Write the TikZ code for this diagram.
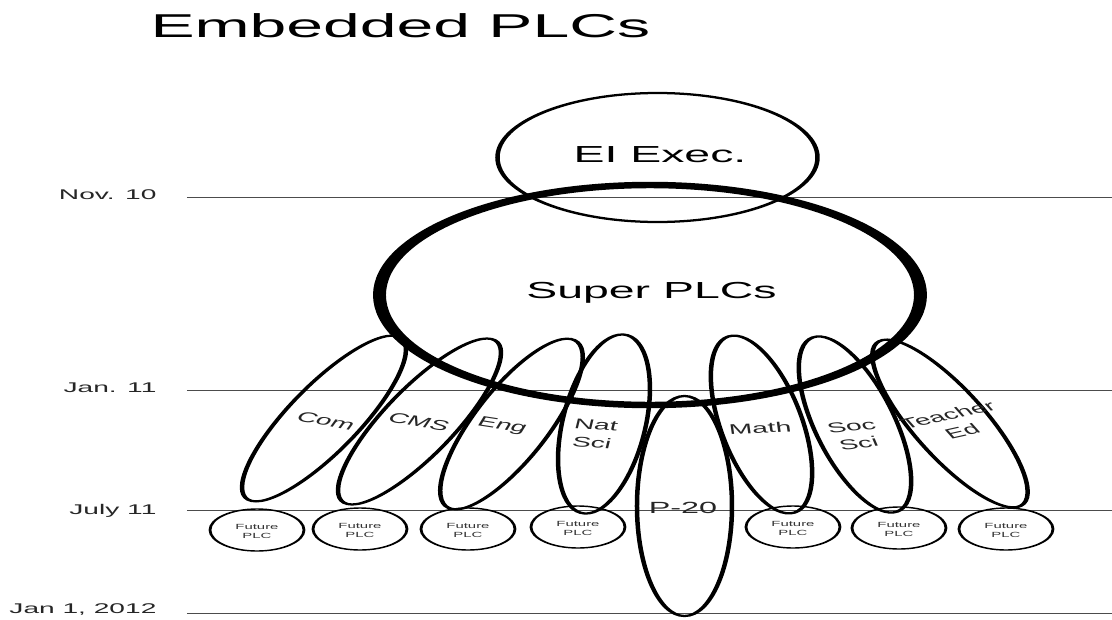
\documentclass[tikz,border=0pt]{standalone}
\usepackage{fontspec}
\setmainfont{Liberation Sans}
\tikzset{
  dateline/.style={gray!60!black, line width=0.7pt},
  datelabel/.style={anchor=base east, inner sep=0pt, text=black!85, font=\fontsize{10}{12}\selectfont},
  plcring/.style={draw, line width=1.6pt},
  futurering/.style={draw, line width=1pt},
  armlabel/.style={inner sep=0pt, align=center, text=black!85, font=\fontsize{10}{12.5}\selectfont},
  futurelabel/.style={inner sep=0pt, align=center, text=black!80, font=\fontsize{5.3}{6.4}\selectfont}
}
\begin{document}
\begin{tikzpicture}[x=0.025cm, y=-0.025cm]
% Set the page size (pixels of the slide)
\useasboundingbox (0,0) rectangle (1112,619);

% The slide is drawn narrow and then stretched sideways
\begin{scope}[x=0.0125cm, transform canvas={xscale=2}]
\def\armlen{2.25cm} % half length of a subject loop
\def\armwid{0.525cm} % half width of a subject loop

% Title
\node[anchor=base west, inner sep=0pt, font=\fontsize{23.5}{28}\selectfont] (title) at (150,37) {Embedded PLCs};

% Draw the time lines and their dates
\draw[dateline] (187,197) -- (1112,197);
\node[datelabel] (nov) at (157,199) {Nov. 10};
\draw[dateline] (187,390) -- (1112,390);
\node[datelabel] (jan) at (157,392) {Jan. 11};
\draw[dateline] (187,510) -- (1112,510);
\node[datelabel] (july) at (157,514) {July 11};
\draw[dateline] (187,613) -- (1112,613);
\node[datelabel] (year) at (157,613) {Jan 1, 2012};

% Executive and super PLCs
\draw[plcring] (657.5,157.5) ellipse [x radius=160, y radius=64.5];
\node[inner sep=0pt, font=\fontsize{16.5}{20}\selectfont] (exec) at (660,155) {EI Exec.};
\draw[line width=4.6pt] (650,295) ellipse [x radius=270.5, y radius=110];
\node[anchor=base, inner sep=0pt, font=\fontsize{16.5}{20}\selectfont] (super) at (651.5,298) {Super PLCs};

% Subject PLCs hanging from the super PLCs
\draw[plcring, rotate around={66.3:(324,418.5)}] (324,418.5) ellipse [x radius=\armlen, y radius=\armwid];
\node[armlabel, rotate=-20] (com) at (326,421) {Com};
\draw[plcring, rotate around={66.5:(419.5,421.5)}] (419.5,421.5) ellipse [x radius=\armlen, y radius=\armwid];
\node[armlabel, rotate=-19] (cms) at (419,422) {CMS};
\draw[plcring, rotate around={70.8:(511.5,424)}] (511.5,424) ellipse [x radius=\armlen, y radius=\armwid];
\node[armlabel, rotate=-17] (eng) at (502,426) {Eng};
\draw[plcring, rotate around={83.9:(604,424)}] (604,424) ellipse [x radius=\armlen, y radius=\armwid];
\node[armlabel, rotate=-7] (natsci) at (594,434) {Nat\\Sci};
\draw[plcring, rotate around={99.3:(761.5,424.5)}] (761.5,424.5) ellipse [x radius=\armlen, y radius=\armwid];
\node[armlabel, rotate=4] (math) at (760,428) {Math};
\draw[plcring, rotate around={102.3:(855,424.5)}] (855,424.5) ellipse [x radius=\armlen, y radius=\armwid];
\node[armlabel, rotate=12] (socsci) at (855,435) {Soc\\Sci};
\draw[plcring, rotate around={111.9:(950,423.5)}] (950,423.5) ellipse [x radius=\armlen, y radius=\armwid];
\node[armlabel, rotate=24] (teached) at (955,423) {Teacher\\Ed};

% P-20 runs past July
\draw[plcring] (684.5,506) ellipse [x radius=47.5, y radius=110];
\node[inner sep=0pt, text=black!85, font=\fontsize{11.5}{14}\selectfont] (ptwenty) at (683,508) {P-20};

% Future PLCs after July 11
\draw[futurering] (257,530) ellipse [x radius=47, y radius=21];
\node[futurelabel] (fut1) at (257,531.5) {Future\\PLC};
\draw[futurering] (360,529) ellipse [x radius=47, y radius=21];
\node[futurelabel] (fut2) at (360,530.5) {Future\\PLC};
\draw[futurering] (468,529) ellipse [x radius=47, y radius=21];
\node[futurelabel] (fut3) at (468,530.5) {Future\\PLC};
\draw[futurering] (578,527) ellipse [x radius=47, y radius=21];
\node[futurelabel] (fut4) at (578,528.5) {Future\\PLC};
\draw[futurering] (793,527) ellipse [x radius=47, y radius=21];
\node[futurelabel] (fut5) at (793,528.5) {Future\\PLC};
\draw[futurering] (899,528) ellipse [x radius=47, y radius=21];
\node[futurelabel] (fut6) at (899,529.5) {Future\\PLC};
\draw[futurering] (1006,529) ellipse [x radius=47, y radius=21];
\node[futurelabel] (fut7) at (1006,530.5) {Future\\PLC};
\end{scope}
\end{tikzpicture}
\end{document}
